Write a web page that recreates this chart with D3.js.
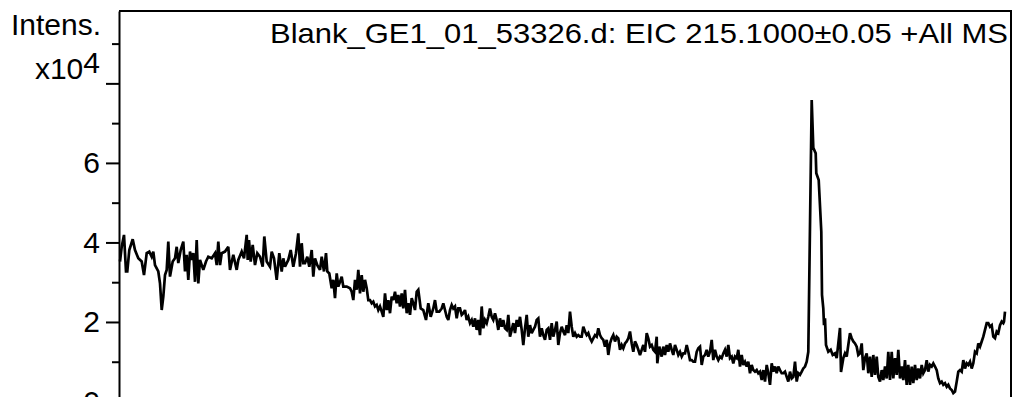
<!DOCTYPE html>
<html>
<head>
<meta charset="utf-8">
<script src="https://cdn.jsdelivr.net/npm/d3@7"></script>
<style>
  html, body { margin: 0; padding: 0; background: #fff; }
  svg { display: block; }
  text { font-family: "Liberation Sans", Arial, sans-serif; fill: #000; }
</style>
</head>
<body>
<svg id="chart" width="1018" height="397"></svg>
<script>
// ---- data (intensity in units of 10^4, x in scan units) ----
const scan = [
  0,1.7,4,6,7.3,9.3,12.7,15,18.3,21.7,24,26.7,29.3,31.7,33.3,35,38.3,40,41.7,43.3,45,46.7,48.3,50,52.7,55,56.7,58.3,60.7,63.3,65,66.7,68.3,70,71.7,73.3,75,76.7,78.3,80,83.3,86,88.3,91.7,95,96.7,98.3,100,101.7,105,108.3,110,113.3,116.7,118.3,121.7,124,126.7,127.7,129,130.7,132.7,135,137.3,140,142.7,144.3,146.7,150,151.7,154,156.7,159.3,161.7,163.3,165,166.7,168.3,170.7,173.3,176,178.3,180,181.7,183.3,185,187.3,189.3,191.7,193.3,195,197.3,200,201.7,204,206,207.3,209.3,211.7,213.3,215,216.7,218.3,220,221.7,223.3,226.7,230,231.7,233.3,235,236.7,238.3,240,241.7,243.3,245,246.7,248.3,250,251.7,253.3,255,256.7,258.3,260,261.7,263.3,265,266.7,268.3,270,271.7,273.3,275,276.7,278.3,280,281.7,283.3,285,286.7,288.3,290,291.7,293.3,295,296.7,298.3,
  300.7,303.3,306,308.3,310.7,313.3,315,316.7,319.3,321.7,323.3,325,326.7,328.3,330,331.7,333.3,335,336.7,338.3,340,341.7,343.3,345,346.7,348.3,350,351.7,353.3,355,356.7,358.3,360,361.7,363.3,365,366.7,368.3,370,371.7,373.3,375,376.7,378.3,380,381.7,383.3,385,386.7,388.3,390,391.7,393.3,395,396.7,398.3,400,401.7,403.3,405,406.7,408.3,410,411.7,413.3,415,416.7,418.3,420,421.7,423.3,425,426.7,428.3,430,431.7,433.3,435,436.7,438.3,440,441.7,443.3,445,446.7,448.3,450,451.7,453.3,455,456.7,458.3,460,461.7,463.3,465,466.7,468.3,470,471.7,473.3,475,476.7,478.3,480,481.7,483.3,485,486.7,488.3,490,491.7,493.3,495,496.7,498.3,500,501.7,503.3,505,506.7,508.3,510,511.7,513.3,515,516.7,518.3,520,521.7,523.3,525,526.7,528.3,530,531.7,533.3,535,536.7,537.3,539.3,541.7,543.3,545,546.7,548.3,550,551.7,553.3,555,556.7,558.3,560,561.7,563.3,565,566.7,568.3,570,571.7,573.3,575,576.7,578.3,
  580,581.7,583.3,585,586.7,588.3,590,591.7,593.3,595,596.7,598.3,600,601.7,603.3,605,606.7,608.3,610,611.7,613.3,615,616.7,618.3,620,621.7,623.3,625,626.7,628.3,630,631.7,633.3,635,636.7,638.3,640,641.7,643.3,645,646.7,648.3,650,651.7,653.3,655,656.7,658.3,660,661.7,663.3,665,666.7,668.3,670,671.7,673.3,675,676.7,678.3,680,681.7,683.3,685,686.7,688.3,
  691.7,693.3,695.7,696.3,698.7,701.3,702,703.3,704,705,706,708.3,710.7,712.7,715,716.7,720,721,723.3,725,726.7,728.3,730,731.7,733.3,735,736.7,738.3,740,741.7,743.3,745,746.7,748.3,750,751.7,753.3,755,756.7,758.3,
  760,761.7,763.3,765,766.7,768.3,770,771.7,773.3,775,776.7,778.3,780,781.7,783.3,785,786.7,788.3,790,791.7,793.3,795,796.7,798.3,800,801.7,803.3,805,806.7,808.3,810,811.7,813.3,815,816.7,818.3,820,821.7,823.3,825,826.7,828.3,830,831.7,833.3,835,836.7,838.3,840,841.7,843.3,845,846.7,848.3,850,851.7,853.3,855,856.7,858.3,860,861.7,863.3,865,866.7,868.3,870,871.7,873.3,875,876.7,878.3,880,881.7,883.3,884,885
];
const intensity = [
  3.52,3.89,4.19,3.27,3.27,3.81,4.08,3.81,3.60,3.52,3.18,3.73,3.77,3.64,3.77,3.43,3.27,2.97,2.30,2.64,3.18,3.31,4.02,3.14,3.52,3.60,3.89,3.48,3.81,4.02,3.27,3.69,3.06,3.77,3.56,3.73,3.01,4.06,2.97,3.56,3.31,3.52,3.64,3.60,3.73,3.43,4.02,3.43,3.73,3.77,3.89,3.31,3.69,3.31,3.56,3.77,3.60,4.19,3.56,4.06,3.52,3.94,3.43,3.73,3.64,3.39,4.15,3.52,3.39,3.77,3.60,3.06,3.73,3.27,3.60,3.39,3.48,3.56,3.81,3.39,3.73,4.23,3.39,3.98,3.48,3.48,3.64,3.39,3.81,3.14,3.60,3.43,3.31,3.64,3.27,3.73,3.27,3.22,2.85,3.06,2.60,3.22,2.89,3.01,3.14,2.89,2.89,2.85,2.76,2.55,3.06,2.81,3.31,2.72,3.18,2.76,3.06,2.85,2.55,2.55,2.47,2.51,2.39,2.43,2.30,2.39,2.26,2.13,2.72,2.30,2.55,2.22,2.64,2.55,2.76,2.47,2.68,2.39,2.72,2.34,2.81,2.22,2.47,2.18,2.60,2.47,2.30,2.76,2.81,
  2.34,2.30,2.05,2.47,2.13,2.34,2.55,2.26,2.26,2.34,2.47,2.30,2.13,2.05,2.30,2.43,2.34,2.39,2.09,2.34,2.34,2.18,2.22,2.30,2.05,2.13,1.97,2.05,1.88,2.09,1.80,2.05,1.67,2.39,1.84,2.05,1.97,2.13,2.34,2.13,2.05,2.22,2.05,1.80,2.09,1.88,2.05,1.84,1.80,2.18,1.63,1.80,1.97,1.72,2.05,1.88,2.13,1.80,1.42,1.84,2.18,1.63,1.92,1.72,1.80,1.88,2.05,2.09,1.63,1.84,1.67,1.55,1.80,1.84,1.55,1.97,1.63,1.80,2.01,1.42,1.72,1.88,1.76,1.67,1.92,1.72,2.26,1.88,1.63,1.72,1.63,1.67,1.63,1.63,1.88,1.76,1.67,1.72,1.59,1.51,1.59,1.67,1.63,1.84,1.67,1.59,1.55,1.38,1.55,1.17,1.46,1.59,1.67,1.51,1.63,1.59,1.30,1.42,1.34,1.46,1.51,1.59,1.76,1.46,1.25,1.51,1.42,1.30,1.17,1.30,1.42,1.25,1.72,1.59,1.38,1.42,1.30,1.25,1.63,0.96,1.38,1.13,1.38,1.17,1.42,1.25,1.46,1.30,1.17,1.42,1.30,1.17,1.25,1.13,1.21,1.21,1.42,1.25,1.04,1.04,1.00,1.00,1.25,1.34,
  1.38,0.92,1.13,1.17,1.30,1.13,1.25,1.55,1.04,1.30,1.13,1.04,1.13,1.09,1.21,1.30,1.13,1.42,1.09,1.13,0.96,1.13,1.09,1.30,0.88,1.17,0.92,1.00,0.88,1.00,0.71,0.92,0.79,0.75,0.79,0.71,0.75,0.54,0.79,0.50,0.92,0.71,0.42,0.96,0.75,0.88,0.71,0.88,0.79,0.71,0.71,0.75,0.62,0.50,0.75,0.58,0.62,1.00,0.50,0.71,0.67,0.75,0.83,0.88,1.00,1.25,
  7.58,6.38,6.24,5.74,5.57,4.27,2.68,2.34,1.92,2.09,1.42,1.25,1.30,1.17,1.21,1.09,1.85,0.74,1.09,1.21,1.13,1.42,1.72,1.59,1.51,1.46,1.38,1.17,1.21,1.46,0.79,1.09,1.21,0.71,1.13,0.62,1.17,0.67,1.13,0.62,
  0.50,0.79,0.54,0.88,0.58,1.25,0.54,1.25,0.58,1.09,0.67,1.30,0.58,0.88,0.54,1.04,0.42,0.92,0.42,0.88,0.46,0.92,0.54,0.83,0.58,0.92,0.71,0.79,1.04,0.75,0.92,0.88,0.96,0.88,0.79,0.58,0.46,0.50,0.42,0.46,0.37,0.42,0.33,0.29,0.21,0.25,0.50,0.75,0.79,0.75,1.04,0.83,0.96,0.92,1.00,0.83,0.96,1.25,1.21,1.46,1.38,1.51,1.63,1.80,1.97,1.97,1.88,1.92,1.63,1.59,1.76,1.72,1.92,2.01,1.97,2.01,2.26
];
const majorTicks = [0, 2, 4, 6, 8];
const majorTickLabels = ["0", "2", "4", "6", ""];
const minorTicks = [1, 3, 5, 7, 9];
const titleText = "Blank_GE1_01_53326.d: EIC 215.1000\u00B10.05 +All MS";
const yLabelLine1 = "Intens.";
const yLabelLine2 = "x10";
const yLabelExp = "4";

// ---- drawing ----
(function () {
  const svg = d3.select("#chart");
  const H = 397;
  const plotLeft = 119, plotRight = 1011, plotTop = 11;

  const y = d3.scaleLinear().domain([0, 9.82]).range([401.5, plotTop]);
  const x = d3.scaleLinear().domain([0, 885]).range([120, 1005]);

  // frame (top and right)
  svg.append("path")
    .attr("d", `M${plotLeft},${plotTop}H${plotRight}V${H + 5}`)
    .attr("fill", "none").attr("stroke", "#000").attr("stroke-width", 2);

  // minor ticks
  const minorAxis = d3.axisLeft(y).tickValues(minorTicks).tickSize(7).tickSizeOuter(0).tickFormat("");
  const gMinor = svg.append("g").attr("transform", `translate(${plotLeft},0)`).call(minorAxis);
  gMinor.select(".domain").remove();
  gMinor.selectAll(".tick line").attr("stroke", "#000").attr("stroke-width", 2);

  // major axis
  const majorAxis = d3.axisLeft(y).tickValues(majorTicks).tickSize(13).tickPadding(6).tickSizeOuter(0)
    .tickFormat((d, i) => majorTickLabels[i]);
  const gMajor = svg.append("g").attr("transform", `translate(${plotLeft},0)`).call(majorAxis);
  gMajor.attr("font-size", 30).attr("font-family", "'Liberation Sans', Arial, sans-serif");
  gMajor.select(".domain").attr("stroke", "#000").attr("stroke-width", 2);
  gMajor.selectAll(".tick line").attr("stroke", "#000").attr("stroke-width", 2);
  gMajor.selectAll(".tick text")
    .attr("font-size", 30)
    .attr("fill", "#000");

  // data line
  const pts = scan.map((s, i) => [s, intensity[i]]);
  const line = d3.line().x(d => x(d[0])).y(d => y(d[1]));
  svg.append("path")
    .datum(pts)
    .attr("d", line)
    .attr("fill", "none")
    .attr("stroke", "#000")
    .attr("stroke-width", 2.7)
    .attr("stroke-linejoin", "miter")
    .attr("stroke-miterlimit", 3);

  // y label
  svg.append("text").attr("x", 101).attr("y", 35).attr("text-anchor", "end")
    .attr("font-size", 30).text(yLabelLine1);
  const t2 = svg.append("text").attr("x", 100).attr("y", 79).attr("text-anchor", "end")
    .attr("font-size", 30);
  t2.append("tspan").text(yLabelLine2);
  t2.append("tspan").attr("dy", -6).text(yLabelExp);

  // title
  svg.append("text").attr("x", 1008).attr("y", 43).attr("text-anchor", "end")
    .attr("font-size", 28.5)
    .attr("textLength", 738).attr("lengthAdjust", "spacingAndGlyphs")
    .text(titleText);
})();
</script>
</body>
</html>
